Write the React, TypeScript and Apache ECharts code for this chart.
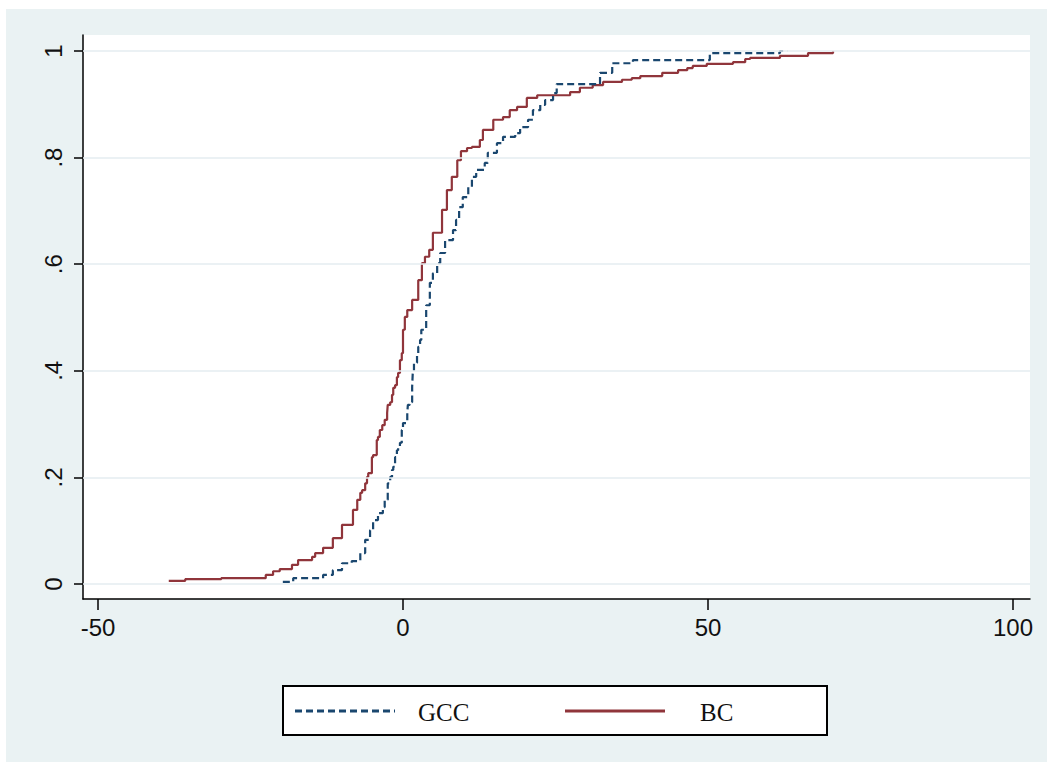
import { useEffect, useRef } from "react";
import * as echarts from "echarts";

// ECDF of GCC (value, cumulative share)
const gccValue = [-19.7, -18.0, -13.1, -11.5, -10.0, -8.4, -7.0, -6.2, -5.4, -4.9, -4.1, -3.3, -3.0, -2.5, -2.1, -1.8, -1.6, -1.3, -1.0, -0.8, -0.5, -0.2, 0.0, 0.7, 0.8, 1.1, 1.5, 1.6, 1.8, 2.3, 2.5, 2.8, 3.0, 3.8, 4.4, 4.9, 5.6, 6.1, 6.9, 8.2, 8.7, 9.2, 9.8, 10.7, 11.3, 12.0, 13.4, 13.9, 15.4, 16.4, 18.4, 19.2, 20.5, 21.3, 22.5, 23.3, 24.6, 25.2, 32.3, 34.3, 37.7, 50.3, 61.8, 63.0];
const gccCum = [0.004, 0.011, 0.017, 0.026, 0.039, 0.043, 0.058, 0.083, 0.101, 0.12, 0.133, 0.144, 0.158, 0.189, 0.201, 0.214, 0.22, 0.238, 0.251, 0.257, 0.265, 0.289, 0.302, 0.321, 0.336, 0.341, 0.37, 0.396, 0.415, 0.433, 0.445, 0.458, 0.477, 0.523, 0.565, 0.583, 0.602, 0.621, 0.645, 0.664, 0.683, 0.707, 0.726, 0.745, 0.764, 0.777, 0.79, 0.809, 0.827, 0.839, 0.846, 0.857, 0.871, 0.889, 0.899, 0.908, 0.921, 0.938, 0.959, 0.977, 0.983, 0.996, 1.0, 1.0];

// ECDF of BC (value, cumulative share)
const bcValue = [-38.4, -35.7, -29.8, -22.5, -21.3, -20.2, -18.2, -17.2, -14.9, -14.4, -13.1, -11.5, -10.0, -8.2, -7.5, -7.0, -6.7, -6.2, -5.9, -5.7, -5.1, -4.9, -4.3, -4.1, -3.8, -3.4, -3.0, -2.6, -2.5, -2.1, -1.8, -1.6, -1.3, -1.0, -0.8, -0.5, -0.2, 0.0, 0.3, 0.7, 1.5, 2.5, 3.1, 3.6, 4.3, 4.9, 6.4, 7.2, 8.0, 8.9, 9.5, 10.5, 11.3, 12.6, 13.1, 14.8, 16.4, 17.5, 18.7, 20.3, 22.0, 27.4, 29.0, 31.1, 32.8, 35.9, 37.5, 38.9, 42.5, 45.1, 46.6, 47.5, 49.8, 54.1, 56.1, 56.9, 61.8, 66.4, 70.5];
const bcCum = [0.006, 0.009, 0.011, 0.017, 0.024, 0.028, 0.036, 0.045, 0.051, 0.058, 0.068, 0.086, 0.111, 0.139, 0.158, 0.171, 0.176, 0.189, 0.201, 0.208, 0.238, 0.242, 0.27, 0.276, 0.289, 0.298, 0.308, 0.321, 0.336, 0.341, 0.355, 0.368, 0.373, 0.388, 0.396, 0.42, 0.433, 0.477, 0.501, 0.514, 0.533, 0.57, 0.602, 0.614, 0.627, 0.659, 0.702, 0.739, 0.764, 0.795, 0.812, 0.818, 0.82, 0.833, 0.852, 0.871, 0.876, 0.889, 0.895, 0.912, 0.917, 0.923, 0.931, 0.936, 0.942, 0.946, 0.949, 0.953, 0.959, 0.964, 0.968, 0.972, 0.976, 0.979, 0.985, 0.987, 0.991, 0.996, 1.0];

const seriesNames = ["GCC", "BC"];
const xTicks = [-50, 0, 50, 100];
const yTicks = [0, 0.2, 0.4, 0.6, 0.8, 1];
const yTickLabels = ["0", ".2", ".4", ".6", ".8", "1"];

const NAVY = "#1a476f";
const MAROON = "#90353b";
const BG = "#eaf2f3";
const GRIDC = "#e4edf0";

export default function App() {
  const ref = useRef<HTMLDivElement>(null);
  useEffect(() => {
    if (!ref.current) return;
    const chart = echarts.init(ref.current, undefined, { renderer: "svg" });
    const gccData = gccValue.map((v, i) => [v, gccCum[i]]);
    const bcData = bcValue.map((v, i) => [v, bcCum[i]]);
    const OX = 6;
    const OY = 9;
    const axisLine = { show: true, onZero: false, lineStyle: { color: "#000", width: 1.5 } };
    const tickStyle = { color: "#000", width: 1.5 };
    const labelFont = { fontFamily: "Liberation Sans, Arial, sans-serif", fontSize: 24, color: "#111" };
    chart.setOption({
      animation: false,
      backgroundColor: BG,
      grid: {
        left: 83 - OX,
        top: 35 - OY,
        right: 1047 - 1030,
        bottom: 762 - 599,
        show: true,
        backgroundColor: "#ffffff",
        borderWidth: 0,
        containLabel: false,
      },
      xAxis: {
        type: "value",
        min: -52.46,
        max: 102.79,
        axisLine,
        axisTick: { show: true, length: 11, customValues: xTicks, lineStyle: tickStyle },
        axisLabel: { ...labelFont, margin: 16, customValues: xTicks, formatter: (v: number) => String(v) },
        splitLine: { show: false },
      },
      yAxis: {
        type: "value",
        min: -0.0281,
        max: 1.03,
        axisLine,
        axisTick: { show: true, length: 9, customValues: yTicks, lineStyle: tickStyle },
        axisLabel: {
          ...labelFont,
          rotate: 90,
          margin: 18,
          customValues: yTicks,
          formatter: (v: number) => {
            const i = yTicks.findIndex((t) => Math.abs(t - v) < 1e-6);
            return i >= 0 ? yTickLabels[i] : "";
          },
        },
        splitLine: { show: false },
      },
      series: [
        {
          type: "line",
          name: "grid",
          data: [],
          silent: true,
          z: 1,
          markLine: {
            silent: true,
            symbol: "none",
            label: { show: false },
            lineStyle: { color: GRIDC, width: 1.5, type: "solid" },
            data: yTicks.map((t) => ({ yAxis: t })),
          },
        },
        {
          type: "line",
          name: seriesNames[1],
          data: bcData,
          step: "end",
          symbol: "none",
          z: 3,
          lineStyle: { color: MAROON, width: 2.2 },
        },
        {
          type: "line",
          name: seriesNames[0],
          data: gccData,
          step: "end",
          symbol: "none",
          z: 4,
          lineStyle: { color: NAVY, width: 2.2, type: [7, 4] },
        },
      ],
      graphic: [
        {
          type: "rect",
          shape: { x: 283 - OX, y: 686 - OY, width: 544, height: 49 },
          style: { fill: "#fff", stroke: "#000", lineWidth: 2 },
          z: 10,
        },
        {
          type: "line",
          shape: { x1: 295 - OX, y1: 711 - OY, x2: 395 - OX, y2: 711 - OY },
          style: { stroke: NAVY, lineWidth: 3, lineDash: [7, 4] },
          z: 11,
        },
        {
          type: "text",
          x: 418 - OX,
          y: 712 - OY,
          style: { text: seriesNames[0], fill: "#111", font: "25px 'Liberation Serif', 'Times New Roman', serif", verticalAlign: "middle" },
          z: 11,
        },
        {
          type: "line",
          shape: { x1: 565 - OX, y1: 711 - OY, x2: 665 - OX, y2: 711 - OY },
          style: { stroke: MAROON, lineWidth: 3 },
          z: 11,
        },
        {
          type: "text",
          x: 700 - OX,
          y: 712 - OY,
          style: { text: seriesNames[1], fill: "#111", font: "25px 'Liberation Serif', 'Times New Roman', serif", verticalAlign: "middle" },
          z: 11,
        },
      ],
    });
    return () => chart.dispose();
  }, []);
  return (
    <div
      ref={ref}
      style={{ position: "absolute", left: 6, top: 9, width: 1041, height: 753 }}
    />
  );
}
